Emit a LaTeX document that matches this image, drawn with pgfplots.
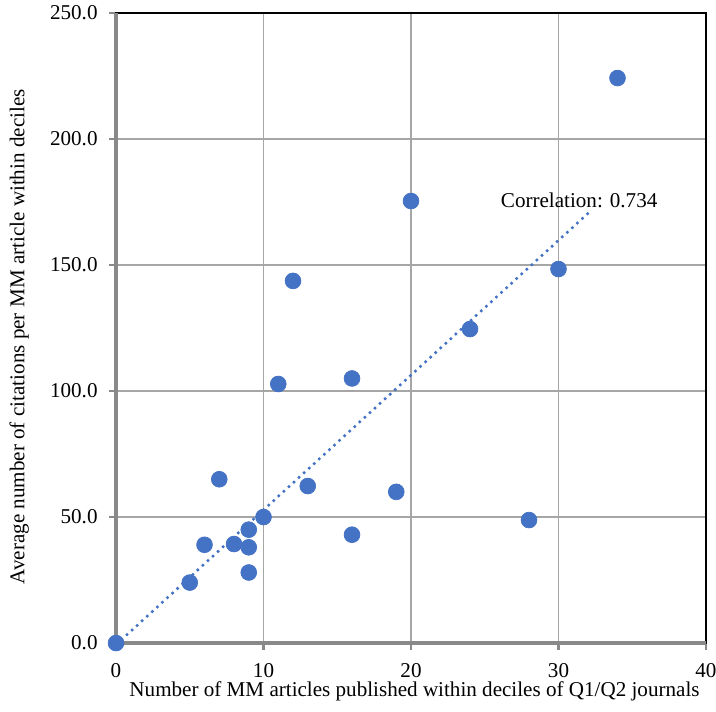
\documentclass[border=0pt]{standalone}
\usepackage{fontspec}
\setmainfont{Liberation Serif}
\usepackage{pgfplots}
\pgfplotsset{compat=1.18}
\definecolor{ptblue}{HTML}{4472C4}
\definecolor{gridgray}{HTML}{A6A6A6}
\definecolor{axgray}{HTML}{898989}
\begin{document}
\fontsize{12}{14.4}\selectfont
\begin{tikzpicture}
\begin{axis}[
  scale only axis,
  width=335.6pt, height=358.4pt,
  xmin=0, xmax=40, ymin=0, ymax=250,
  xtick={0,10,20,30,40},
  ytick={0,50,100,150,200,250},
  grid=major,
  major grid style={gridgray, line width=0.8pt},
  axis line style={black, line width=0.6pt},
  tick align=outside,
  xtick pos=bottom, ytick pos=left,
  major tick length=4pt,
  tick style={axgray, line width=1.4pt},
  /pgf/number format/assume math mode=true,
  yticklabel style={/pgf/number format/.cd, fixed, fixed zerofill, precision=1, /tikz/.cd, xshift=-2.3pt},
  xticklabel style={/pgf/number format/.cd, fixed, /tikz/.cd, yshift=-3.5pt},
  ticklabel style={font=\fontsize{12}{14.4}\selectfont},
  xlabel={Number of MM articles published within deciles of Q1/Q2 journals},
  ylabel={Average number of citations per MM article within deciles},
  xlabel style={at={(axis description cs:0.5,0)}, anchor=center, yshift=-27.5pt, xshift=2pt, font=\fontsize{12}{14.4}\selectfont},
  ylabel style={at={(axis description cs:0,0.5)}, anchor=center, yshift=55pt, xshift=-5pt, font=\fontsize{12}{14.4}\selectfont},
  clip=false,
]
\draw[axgray, line width=1.8pt] (rel axis cs:0,1) -- (rel axis cs:0,0) -- (rel axis cs:1,0);
\addplot[only marks, mark=*, mark size=4.5pt, mark options={fill=ptblue, draw=ptblue}] coordinates {
(0,0) (5,24) (6,39) (7,65) (8,39.3) (9,45) (9,38) (9,28) (10,50)
(11,102.8) (12,143.7) (13,62.3) (16,43) (16,105) (19,60) (20,175.4)
(24,124.6) (28,48.8) (30,148.4) (34,224.2)
};
\addplot[ptblue, line width=2pt, line cap=round, dash pattern=on 0pt off 3.9pt] coordinates {(0.4,1.5) (32,170.5)};
\node[anchor=center, font=\fontsize{12}{14.4}\selectfont] at (axis cs:31.4,175.8) {Correlation: 0.734};
\path (rel axis cs:0,0) ++(-66pt,-39.2pt) coordinate (bbA);
\path (rel axis cs:1,1) ++(5.7pt,7.4pt) coordinate (bbB);
\end{axis}
\pgfresetboundingbox
\path[use as bounding box] (bbA) rectangle (bbB);
\end{tikzpicture}
\end{document}
